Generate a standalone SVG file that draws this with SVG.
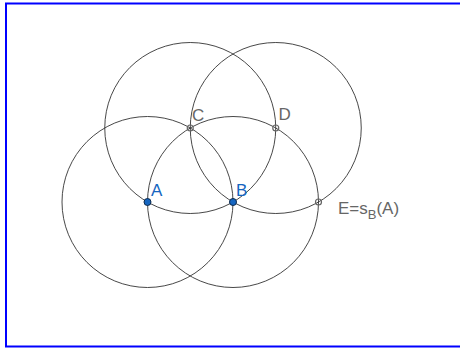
<svg xmlns="http://www.w3.org/2000/svg" width="460" height="349" viewBox="0 0 460 349">
<style>
.c{fill:none;stroke:#333;stroke-width:0.9}
.lb{font-family:"Liberation Sans",Arial,sans-serif;font-size:17px}
.blue{fill:#1565c0}
.gray{fill:#666}
.pf{fill:#1565c0;stroke:#0d2a4d;stroke-width:1}
.ph{fill:none;stroke:#666;stroke-width:1.2}
</style>
<rect x="0" y="0" width="460" height="349" fill="#fff"/>
<rect x="6" y="3.5" width="460" height="343" fill="none" stroke="#0000ff" stroke-width="2"/>
<g id="connectors">
<circle class="c" cx="147.5" cy="202" r="85.5"/>
<circle class="c" cx="233" cy="202" r="85.5"/>
<circle class="c" cx="190.25" cy="128" r="85.5"/>
<circle class="c" cx="275.75" cy="128" r="85.5"/>
</g>
<g id="A"><circle class="pf" cx="147.5" cy="202" r="3.5"/><text class="lb blue" x="151" y="196">A</text></g>
<g id="B"><circle class="pf" cx="233" cy="202" r="3.5"/><text class="lb blue" x="236" y="196">B</text></g>
<g id="C"><circle class="ph" cx="190.25" cy="128" r="3"/><text class="lb gray" x="192" y="120.5">C</text></g>
<g id="D"><circle class="ph" cx="275.75" cy="128" r="3"/><text class="lb gray" x="278.5" y="119.5">D</text></g>
<g id="E"><circle class="ph" cx="318.5" cy="202" r="3"/><text class="lb gray" x="338" y="213.5">E=s<tspan font-size="13" dy="5.5">B</tspan><tspan dy="-5.5">(A)</tspan></text></g>
</svg>
